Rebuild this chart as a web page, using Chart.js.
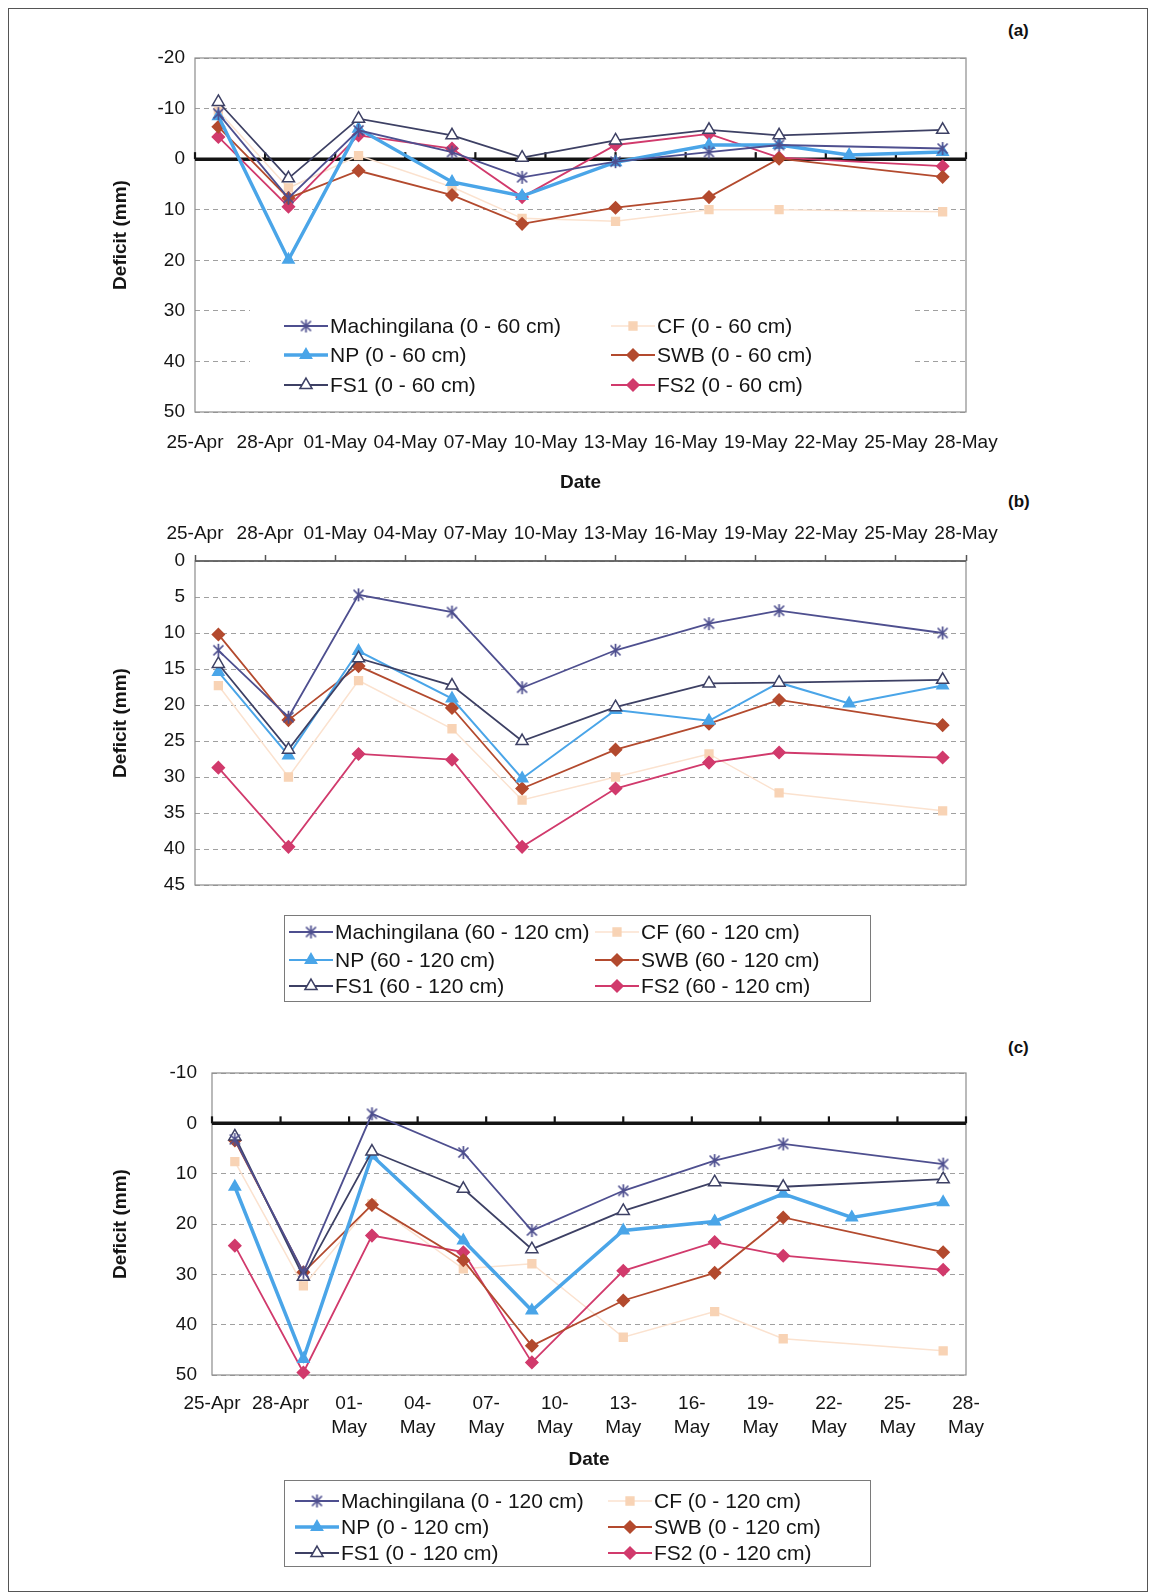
<!DOCTYPE html>
<html>
<head>
<meta charset="utf-8">
<script src="https://cdn.jsdelivr.net/npm/chart.js@4.4.1/dist/chart.umd.min.js"></script>
<style>
  html, body { margin: 0; padding: 0; background: #fff; }
  body { width: 1156px; height: 1596px; position: relative; overflow: hidden; font-family: 'Liberation Sans', Arial, sans-serif; }
  .frame { position: absolute; left: 8px; top: 8px; width: 1140px; height: 1584px; border: 1px solid #555; box-sizing: border-box; }
  canvas { position: absolute; left: 0; }
  .tag { position: absolute; left: 1008px; font-weight: bold; font-size: 17px; color: #111; }
</style>
</head>
<body>
<div class="frame"></div>
<div class="tag" style="top:21px">(a)</div>
<div class="tag" style="top:492px">(b)</div>
<div class="tag" style="top:1038px">(c)</div>
<canvas id="chartA" width="1156" height="496" style="top:0"></canvas>
<canvas id="chartB" width="1156" height="514" style="top:496px"></canvas>
<canvas id="chartC" width="1156" height="586" style="top:1010px"></canvas>
<script>
// x axis tick labels (every 3 days from 25-Apr)
const tickLabels = ['25-Apr', '28-Apr', '01-May', '04-May', '07-May', '10-May',
                    '13-May', '16-May', '19-May', '22-May', '25-May', '28-May'];

// measurement dates
const dates = ['26-Apr', '29-Apr', '02-May', '06-May', '09-May', '13-May', '17-May', '20-May', '23-May', '27-May'];

const seriesNames = ['Machingilana', 'CF', 'NP', 'SWB', 'FS1', 'FS2'];

// (a) 0 - 60 cm
const mach60 = [-9.0, 7.7, -5.7, -1.4, 3.6, 0.5, -1.4, -2.8, null, -2.1];
const cf60   = [-9.5, 5.7, -0.7, 5.5, 11.7, 12.3, 10.0, 10.0, null, 10.4];
const np60   = [-8.5, 19.9, -6.0, 4.5, 7.3, 0.6, -2.8, -2.8, -0.8, -1.4];
const swb60  = [-6.4, 7.7, 2.3, 7.1, 12.8, 9.6, 7.5, -0.1, null, 3.5];
const fs1_60 = [-11.3, 3.8, -8.0, -4.7, -0.3, -3.7, -5.8, -4.7, null, -5.8];
const fs2_60 = [-4.4, 9.4, -4.7, -2.1, 7.5, -2.8, -5.0, -0.3, null, 1.4];

// (b) 60 - 120 cm
const mach120 = [12.4, 21.7, 4.7, 7.1, 17.6, 12.4, 8.7, 6.9, null, 10.0];
const cf120   = [17.3, 30.0, 16.6, 23.3, 33.2, 30.0, 26.8, 32.2, null, 34.7];
const np120   = [15.4, 27.0, 12.5, 19.1, 30.2, 20.7, 22.2, 16.9, 19.8, 17.3];
const swb120  = [10.2, 22.1, 14.6, 20.4, 31.6, 26.2, 22.6, 19.3, null, 22.8];
const fs1_120 = [14.3, 26.2, 13.5, 17.3, 25.0, 20.3, 17.0, 16.9, null, 16.5];
const fs2_120 = [28.7, 39.7, 26.8, 27.6, 39.7, 31.6, 28.0, 26.6, null, 27.3];

// (c) 0 - 120 cm
const machAll = [3.2, 29.6, -1.9, 5.8, 21.3, 13.4, 7.4, 4.1, null, 8.1];
const cfAll   = [7.6, 32.3, 16.0, 28.9, 27.9, 42.5, 37.4, 42.8, null, 45.2];
const npAll   = [12.6, 46.8, 6.4, 23.3, 37.2, 21.3, 19.5, 14.0, 18.7, 15.7];
const swbAll  = [3.4, 29.6, 16.2, 27.2, 44.2, 35.2, 29.7, 18.7, null, 25.6];
const fs1All  = [2.6, 30.5, 5.6, 13.0, 25.0, 17.4, 11.7, 12.6, null, 11.1];
const fs2All  = [24.3, 49.5, 22.3, 25.6, 47.5, 29.3, 23.6, 26.3, null, 29.1];

Chart.defaults.font.family = "'Liberation Sans', Arial, sans-serif";
Chart.defaults.color = '#151515';

function dayOffset(label) {
    const [d, m] = label.split('-');
    return (m === 'Apr' ? 0 : 30) + Number(d) - 25;
}

// Excel style asterisk marker
function starMarker(color) {
    const c = document.createElement('canvas');
    c.width = c.height = 15;
    const g = c.getContext('2d');
    g.strokeStyle = color;
    g.lineWidth = 1.7;
    g.beginPath();
    g.moveTo(7.5, 1); g.lineTo(7.5, 14);
    g.moveTo(2.5, 2.5); g.lineTo(12.5, 12.5);
    g.moveTo(12.5, 2.5); g.lineTo(2.5, 12.5);
    g.stroke();
    return c;
}

const seriesStyle = [
    { line: '#4e4f8f', point: starMarker('#4e4f8f'), fill: '#4e4f8f', edge: '#4e4f8f', radius: 7, width: 1.8, order: 1 },
    { line: '#fbe2cf', point: 'rect', fill: '#f8d3b5', edge: '#f8d3b5', radius: 5.5, width: 1.5, order: 9 },
    { line: '#4aa5e8', point: 'triangle', fill: '#4aa5e8', edge: '#4aa5e8', radius: 6.5, width: 3.5, order: 3 },
    { line: '#b34a2e', point: 'rectRot', fill: '#b34a2e', edge: '#b34a2e', radius: 6, width: 1.8, order: 4 },
    { line: '#3d4064', point: 'triangle', fill: '#ffffff', edge: '#3d4064', radius: 7, width: 1.8, order: 2 },
    { line: '#d13a6c', point: 'rectRot', fill: '#d13a6c', edge: '#d13a6c', radius: 6, width: 1.8, order: 5 }
];

// plot frame, zero line with tick marks
const framePlugin = {
    id: 'frame',
    beforeDatasetsDraw(chart, args, o) {
        const {ctx, chartArea: a, scales: {x, y}} = chart;
        ctx.save();
        ctx.strokeStyle = '#8c8c8c';
        ctx.lineWidth = 1.2;
        ctx.strokeRect(a.left, a.top, a.right - a.left, a.bottom - a.top);
        if (o.topLine) {
            ctx.strokeStyle = '#555';
            ctx.lineWidth = 1.5;
            ctx.beginPath(); ctx.moveTo(a.left, a.top); ctx.lineTo(a.right, a.top); ctx.stroke();
        }
        if (o.zero) {
            const y0 = y.getPixelForValue(0);
            ctx.strokeStyle = '#141414';
            ctx.lineWidth = 3.5;
            ctx.beginPath(); ctx.moveTo(a.left, y0); ctx.lineTo(a.right, y0); ctx.stroke();
            ctx.lineWidth = 2.2;
            x.ticks.forEach(t => {
                const px = x.getPixelForValue(t.value);
                ctx.beginPath(); ctx.moveTo(px, y0); ctx.lineTo(px, y0 - 7); ctx.stroke();
            });
        }
        ctx.restore();
    }
};

// two-column legend in a box
const boxLegend = {
    id: 'boxLegend',
    afterDraw(chart, args, o) {
        const ctx = chart.ctx;
        ctx.save();
        ctx.fillStyle = '#fff';
        ctx.fillRect(o.box.x, o.box.y, o.box.w, o.box.h);
        if (o.border) {
            ctx.strokeStyle = '#7a7a7a';
            ctx.lineWidth = 1;
            ctx.strokeRect(o.box.x + 0.5, o.box.y + 0.5, o.box.w, o.box.h);
        }
        chart.data.datasets.forEach((ds, i) => {
            const x = o.cols[i % 2];
            const y = o.rows[Math.floor(i / 2)];
            ctx.strokeStyle = ds.borderColor;
            ctx.lineWidth = ds.borderWidth;
            ctx.beginPath(); ctx.moveTo(x, y); ctx.lineTo(x + 44, y); ctx.stroke();
            ctx.fillStyle = ds.pointBackgroundColor;
            ctx.strokeStyle = ds.pointBorderColor;
            ctx.lineWidth = ds.pointBorderWidth;
            Chart.helpers.drawPoint(ctx, {pointStyle: ds.pointStyle, radius: ds.pointRadius,
                borderWidth: ds.pointBorderWidth, rotation: 0}, x + 22, y);
            ctx.fillStyle = '#151515';
            ctx.font = '21px "Liberation Sans", Arial, sans-serif';
            ctx.textBaseline = 'middle';
            ctx.fillText(ds.label, x + 46, y + 1);
        });
        ctx.restore();
    }
};

function buildDatasets(valueLists, depth, npWidth) {
    return valueLists.map((vals, i) => {
        const s = seriesStyle[i];
        return {
            label: seriesNames[i] + ' (' + depth + ')',
            data: dates.map((d, k) => ({x: dayOffset(d), y: vals[k]})),
            borderColor: s.line,
            borderWidth: i === 2 ? npWidth : s.width,
            pointStyle: s.point,
            pointRadius: s.radius,
            pointBackgroundColor: s.fill,
            pointBorderColor: s.edge,
            pointBorderWidth: 1.5,
            order: s.order,
            spanGaps: true,
            clip: false,
            tension: 0
        };
    });
}

const tickFont = {size: 19};
const titleFont = {size: 19, weight: 'bold'};

function makeChart(id, cfg) {
    return new Chart(document.getElementById(id), {
        type: 'line',
        data: { datasets: buildDatasets(cfg.values, cfg.depth, cfg.npWidth) },
        options: {
            responsive: false,
            animation: false,
            events: [],
            layout: { padding: cfg.padding },
            scales: {
                x: Object.assign({
                    type: 'linear', min: 0, max: 33,
                    afterFit: s => { s.height = cfg.xHeight; }
                }, cfg.x),
                y: {
                    reverse: true, min: cfg.yMin, max: cfg.yMax,
                    ticks: { stepSize: cfg.yStep, padding: cfg.yPad, font: tickFont },
                    grid: { color: '#a0a0a0', lineWidth: 1, drawTicks: false },
                    border: { display: false, dash: [5, 4] },
                    title: { display: true, text: 'Deficit (mm)', font: titleFont, padding: 0 },
                    afterFit: s => { s.width = cfg.yWidth; }
                }
            },
            plugins: {
                legend: { display: false },
                tooltip: { enabled: false },
                frame: cfg.frame,
                boxLegend: cfg.legend
            }
        },
        plugins: [framePlugin, boxLegend]
    });
}

// (a)
makeChart('chartA', {
    values: [mach60, cf60, np60, swb60, fs1_60, fs2_60], depth: '0 - 60 cm', npWidth: 3.5,
    padding: {left: 109, right: 190, top: 58, bottom: 2},
    xHeight: 82, yWidth: 86, yPad: 10, yMin: -20, yMax: 50, yStep: 10,
    x: {
        ticks: { stepSize: 3, padding: 11, autoSkip: false, maxRotation: 0, font: tickFont,
                 callback: v => tickLabels[Math.round(v / 3)] },
        grid: { display: false }, border: { display: false },
        title: { display: true, text: 'Date', font: titleFont, padding: 0 }
    },
    frame: { zero: true },
    legend: { box: {x: 250, y: 300, w: 665, h: 100}, border: false, cols: [284, 611], rows: [326, 355, 385] }
});

// (b)
makeChart('chartB', {
    values: [mach120, cf120, np120, swb120, fs1_120, fs2_120], depth: '60 - 120 cm', npWidth: 2,
    padding: {left: 109, right: 190, top: 15, bottom: 125},
    xHeight: 50, yWidth: 86, yPad: 10, yMin: 0, yMax: 45, yStep: 5,
    x: {
        position: 'top',
        ticks: { stepSize: 3, padding: 10, autoSkip: false, maxRotation: 0, font: tickFont,
                 callback: v => tickLabels[Math.round(v / 3)] },
        grid: { display: true, drawOnChartArea: false, drawTicks: true, tickLength: 6, tickColor: '#555', tickWidth: 1.5 },
        border: { display: false }
    },
    frame: { topLine: true },
    legend: { box: {x: 284, y: 419, w: 586, h: 86}, border: true, cols: [289, 595], rows: [436, 464, 490] }
});

// (c)
makeChart('chartC', {
    values: [machAll, cfAll, npAll, swbAll, fs1All, fs2All], depth: '0 - 120 cm', npWidth: 3.5,
    padding: {left: 109, right: 190, top: 63, bottom: 125},
    xHeight: 96, yWidth: 103, yPad: 15, yMin: -10, yMax: 50, yStep: 10,
    x: {
        ticks: { stepSize: 3, padding: 8, autoSkip: false, maxRotation: 0, font: {size: 19, lineHeight: 1.3},
                 callback: v => {
                     const i = Math.round(v / 3);
                     const t = tickLabels[i];
                     return i < 2 ? t : [t.slice(0, 3), t.slice(3)];
                 } },
        grid: { display: false }, border: { display: false },
        title: { display: true, text: 'Date', font: titleFont, padding: 0 }
    },
    frame: { zero: true },
    legend: { box: {x: 284, y: 470, w: 586, h: 86}, border: true, cols: [295, 608], rows: [491, 517, 543] }
});
</script>
</body>
</html>
